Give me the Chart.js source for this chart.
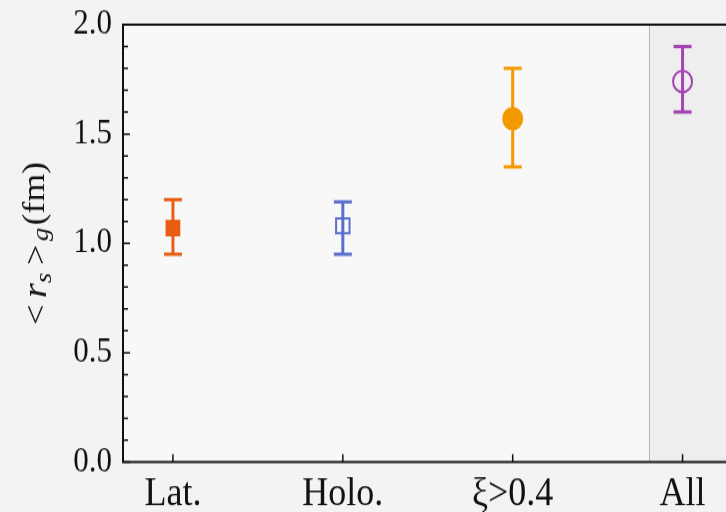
<!DOCTYPE html>
<html>
<head>
<meta charset="utf-8">
<script src="https://cdn.jsdelivr.net/npm/chart.js@4"></script>
<style>
  html, body { margin: 0; padding: 0; background: #f3f3f3; overflow: hidden; }
  #wrap { position: relative; width: 726px; height: 512px; overflow: hidden; }
  /* the figure is drawn slightly compressed and stretched back vertically */
  #radiusChart { display: block; transform-origin: 0 0; transform: scaleY(1.12); }
</style>
</head>
<body>
<div id="wrap"><canvas id="radiusChart" width="726" height="457"></canvas></div>
<script>
// mean radius <r_s>_g per extraction, with asymmetric error bars
const categories = ["Lat.", "Holo.", "ξ>0.4", "All"];
const radius = [1.07, 1.08, 1.57, 1.74];
const errHigh = [1.20, 1.19, 1.80, 1.90];
const errLow = [0.95, 0.95, 1.35, 1.60];
const colors = ["#e85d12", "#5a6fcf", "#f39a00", "#a444b4"];
const markers = ["rect", "rect", "circle", "circle"];
const markerSize = [9, 9.5, 9.5, 9.5];
const filled = [true, false, true, false];
const yTicks = [0, 0.5, 1.0, 1.5, 2.0];

const FONT = "'Liberation Serif', 'DejaVu Serif', serif";

// background for the plot area plus the shaded "All" band
const bandPlugin = {
  id: "band",
  beforeDraw(chart) {
    const { ctx, chartArea: a, scales } = chart;
    const right = chart.width;
    ctx.save();
    ctx.fillStyle = "#f8f8f8";
    ctx.fillRect(a.left, a.top, right - a.left, a.bottom - a.top);
    const x0 = scales.x.getPixelForValue(2.8);
    ctx.fillStyle = "#eeeeee";
    ctx.fillRect(x0, a.top, right - x0, a.bottom - a.top);
    ctx.strokeStyle = "#b4b4b4";
    ctx.lineWidth = 1;
    ctx.beginPath();
    ctx.moveTo(Math.round(x0) + 0.5, a.top);
    ctx.lineTo(Math.round(x0) + 0.5, a.bottom);
    ctx.stroke();
    ctx.restore();
  },
};

// vertical error bars with caps
const errorBarPlugin = {
  id: "errorBars",
  beforeDatasetsDraw(chart) {
    const { ctx, scales } = chart;
    ctx.save();
    ctx.lineWidth = 3;
    radius.forEach((v, i) => {
      const x = scales.x.getPixelForValue(i);
      const yh = scales.y.getPixelForValue(errHigh[i]);
      const yl = scales.y.getPixelForValue(errLow[i]);
      ctx.strokeStyle = colors[i];
      ctx.beginPath();
      ctx.moveTo(x, yh);
      ctx.lineTo(x, yl);
      ctx.moveTo(x - 9, yh);
      ctx.lineTo(x + 9, yh);
      ctx.moveTo(x - 9, yl);
      ctx.lineTo(x + 9, yl);
      ctx.stroke();
    });
    ctx.restore();
  },
};

// frame, inward ticks and the y title with subscripts
const framePlugin = {
  id: "frame",
  afterDraw(chart) {
    const { ctx, chartArea: a, scales } = chart;
    const right = chart.width;
    ctx.save();
    ctx.strokeStyle = "#111";
    ctx.lineWidth = 2;
    ctx.beginPath();
    ctx.moveTo(right, a.top);
    ctx.lineTo(a.left, a.top);
    ctx.lineTo(a.left, a.bottom);
    ctx.lineTo(right, a.bottom);
    ctx.stroke();

    ctx.lineWidth = 1.5;
    ctx.beginPath();
    for (let k = 0; k <= 20; k++) {
      const y = scales.y.getPixelForValue(k / 10);
      const len = k % 5 === 0 ? 7 : 5;
      ctx.moveTo(a.left, y);
      ctx.lineTo(a.left + len, y);
    }
    categories.forEach((c, i) => {
      const x = scales.x.getPixelForValue(i);
      ctx.moveTo(x, a.bottom);
      ctx.lineTo(x, a.bottom - 7);
    });
    ctx.stroke();

    // y axis title: <r_s>_g(fm)
    ctx.translate(46, (a.top + a.bottom) / 2);
    ctx.rotate(-Math.PI / 2);
    ctx.fillStyle = "#111";
    ctx.textBaseline = "alphabetic";
    const parts = [
      { t: "<", f: "32px " + FONT, dy: 0, gap: 6 },
      { t: "r", f: "italic 34px " + FONT, dy: 0, gap: 0 },
      { t: "s", f: "italic 24px " + FONT, dy: 5, gap: 7 },
      { t: ">", f: "32px " + FONT, dy: 0, gap: 3 },
      { t: "g", f: "italic 24px " + FONT, dy: 2, gap: 2 },
      { t: "(fm)", f: "32px " + FONT, dy: -2, gap: 0 },
    ];
    let total = 0;
    parts.forEach((p) => {
      ctx.font = p.f;
      p.w = ctx.measureText(p.t).width;
      total += p.w + p.gap;
    });
    let x = -total / 2;
    parts.forEach((p) => {
      ctx.font = p.f;
      ctx.fillText(p.t, x, p.dy);
      x += p.w + p.gap;
    });
    ctx.restore();
  },
};

new Chart(document.getElementById("radiusChart"), {
  type: "scatter",
  data: {
    datasets: [
      {
        data: radius.map((v, i) => ({ x: i, y: v })),
        pointStyle: markers,
        pointRadius: markerSize,
        pointHoverRadius: markerSize,
        pointBorderWidth: 2,
        pointBorderColor: colors,
        pointBackgroundColor: colors.map((c, i) => (filled[i] ? c : "rgba(0,0,0,0)")),
      },
    ],
  },
  options: {
    responsive: false,
    animation: false,
    events: [],
    layout: { padding: { top: 22, right: 0, left: 0, bottom: 0 } },
    plugins: { legend: { display: false }, tooltip: { enabled: false } },
    scales: {
      x: {
        type: "linear",
        min: -0.294,
        max: 3.188,
        afterBuildTicks: (s) => { s.ticks = categories.map((c, i) => ({ value: i })); },
        afterFit: (s) => { s.height = 44.5; },
        grid: { display: false, drawTicks: false, tickLength: 0 },
        border: { display: false },
        ticks: {
          autoSkip: false,
          maxRotation: 0,
          padding: 7,
          color: "#111",
          font: { family: FONT, size: 36 },
          callback: (v) => categories[v],
        },
      },
      y: {
        min: 0,
        max: 2,
        afterBuildTicks: (s) => { s.ticks = yTicks.map((v) => ({ value: v })); },
        afterFit: (s) => { s.width = 123; s.paddingTop = 0; s.paddingBottom = 0; },
        grid: { display: false, drawTicks: false, tickLength: 0 },
        border: { display: false },
        ticks: {
          padding: 11,
          color: "#111",
          font: { family: FONT, size: 31 },
          callback: (v) => v.toFixed(1),
        },
      },
    },
  },
  plugins: [bandPlugin, errorBarPlugin, framePlugin],
});
</script>
</body>
</html>
